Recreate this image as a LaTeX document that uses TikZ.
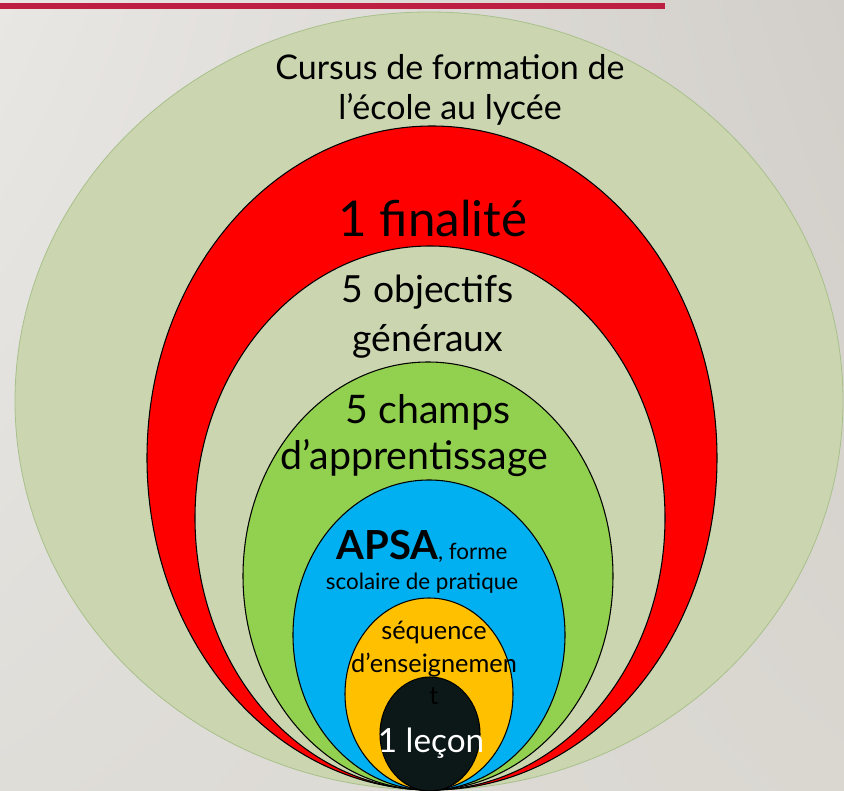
\documentclass[tikz,border=0pt]{standalone}
\usepackage{fontspec}
\setmainfont{Lato}
\usetikzlibrary{positioning,shadings}
\definecolor{fondA}{HTML}{E9E7E4}
\definecolor{fondB}{HTML}{D2CFCA}
\definecolor{fondC}{HTML}{DFDDD8}
\definecolor{fondD}{HTML}{DAD7D1}
\definecolor{barre}{HTML}{BE1E42}
\definecolor{vertpale}{HTML}{CBD6B1}
\definecolor{vertbord}{HTML}{A8C08A}
\definecolor{rouge}{HTML}{FF0000}
\definecolor{vert}{HTML}{92D050}
\definecolor{bleu}{HTML}{00B0F0}
\definecolor{jaune}{HTML}{FFC000}
\definecolor{noir}{HTML}{0C1818}
\tikzstyle{ring} = [draw=black, line width=0.8pt]
\tikzstyle{txt} = [align=center, anchor=base, inner sep=0pt]

\begin{document}
\begin{tikzpicture}[x=0.75pt, y=-0.75pt]
    % fond
    \useasboundingbox (0,0) rectangle (844,791);
    \shade[upper left=fondA, upper right=fondB, lower left=fondC, lower right=fondD] (0,0) rectangle (844,791);
    \fill[barre] (0,3) rectangle (665,9);

    % ellipses emboitees
    \filldraw[fill=vertpale, draw=vertbord, line width=0.6pt] (429,401) ellipse [x radius=414, y radius=389];
    \filldraw[ring, fill=rouge] (432,458) ellipse [x radius=285, y radius=332];
    \filldraw[ring, fill=vertpale] (430,518) ellipse [x radius=235, y radius=272];
    \filldraw[ring, fill=vert] (428,576) ellipse [x radius=185, y radius=214];
    \filldraw[ring, fill=bleu] (429,635) ellipse [x radius=136, y radius=155];
    \filldraw[ring, fill=jaune] (429,694) ellipse [x radius=84, y radius=96];
    \filldraw[ring, fill=noir] (430,734) ellipse [x radius=50, y radius=57];

    % textes (ancre sur la ligne de base de la derniere ligne)
    \node[txt, font=\fontsize{25.5}{30}\selectfont] (cursus) at (450,120) {Cursus de formation de\\l’école au lycée};
    \node[txt, font=\fontsize{37}{45}\selectfont] (finalite) at (433,237) {1 finalité};
    \node[txt, font=\fontsize{28}{37}\selectfont] (objectifs) at (428,352) {5 objectifs\\généraux};
    \node[txt, font=\fontsize{29.5}{35}\selectfont] (champs) at (414,470) {\hspace*{0.7em}5 champs\\d’apprentissage};
    \node[txt, font=\fontsize{16.8}{22.5}\selectfont] (apsa) at (422,590) {{\fontsize{30}{30}\selectfont\bfseries APSA}, forme\\scolaire de pratique};
    \node[txt, font=\fontsize{19}{24.5}\selectfont] (sequence) at (434,705) {séquence\\d’enseignemen\\t};
    \node[txt, font=\fontsize{25}{30}\selectfont, text=white] (lecon) at (431,753) {1 leçon};
\end{tikzpicture}
\end{document}
